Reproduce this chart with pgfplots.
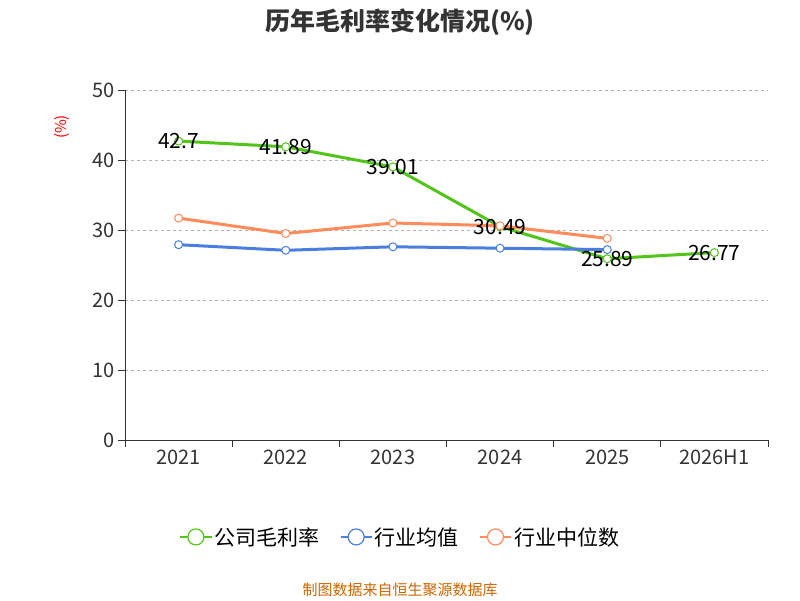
\documentclass[border=0pt]{standalone}
\usepackage{pgfplots}
\pgfplotsset{compat=1.18}
\usepackage{fontspec}
\setmainfont{Noto Sans CJK SC}
\definecolor{cg}{HTML}{52C41A}
\definecolor{cb}{HTML}{4A7FE0}
\definecolor{co}{HTML}{FF8C5A}
\definecolor{ax}{HTML}{333333}
\begin{document}
\begin{tikzpicture}[x=1pt,y=1pt]
\path (0,0) rectangle (800,600);
\begin{axis}[at={(125pt,160pt)},anchor=south west,scale only axis,width=643pt,height=350pt,
 xmin=-0.5,xmax=5.5,ymin=0,ymax=50,
 xtick={-0.5,0.5,1.5,2.5,3.5,4.5,5.5},xticklabels={},
 extra x ticks={0,1,2,3,4,5},extra x tick labels={2021,2022,2023,2024,2025,2026H1},
 extra x tick style={major tick length=0pt,grid=none},
 ytick={0,10,20,30,40,50},ymajorgrids,grid style={dashed,gray!60,line width=0.8pt},
 tick style={draw=ax,line width=0.8pt},major tick length=7pt,tick align=outside,
 axis x line*=bottom,axis y line*=left,axis line style={ax,line width=0.8pt,-},
 ticklabel style={font=\fontsize{20}{20}\selectfont,text=ax},
 xticklabel style={yshift=-6pt},
 /pgf/number format/assume math mode=true,
 legend columns=3,legend style={at={(0.428,-0.277)},anchor=center,draw=none,font=\fontsize{21}{21}\selectfont,/tikz/every even column/.append style={column sep=18pt}},
 legend image code/.code={\draw[#1,line width=2pt] (0,0)--(1.1cm,0); \draw[#1,fill=white,line width=1.2pt] (0.55cm,0) circle (8pt);},
]
\addplot[cg,line width=3pt,mark=*,mark size=4pt,mark options={fill=white,line width=1pt},
 nodes near coords,point meta=explicit symbolic,
 every node near coord/.append style={anchor=center,yshift=0pt,text=black,font=\fontsize{21}{21}\selectfont}]
 coordinates {(0,42.7)[42.7] (1,41.89)[41.89] (2,39.01)[39.01] (3,30.49)[30.49] (4,25.89)[25.89] (5,26.77)[26.77]};
\addlegendentry{公司毛利率}
\addplot[cb,line width=3pt,mark=*,mark size=4pt,mark options={fill=white,line width=1pt}]
 coordinates {(0,27.9)(1,27.1)(2,27.6)(3,27.4)(4,27.2)};
\addlegendentry{行业均值}
\addplot[co,line width=3pt,mark=*,mark size=4pt,mark options={fill=white,line width=1pt}]
 coordinates {(0,31.7)(1,29.5)(2,31.0)(3,30.6)(4,28.8)};
\addlegendentry{行业中位数}
\end{axis}
\node[font=\bfseries\fontsize{25}{25}\selectfont,text=ax] at (400,578) {历年毛利率变化情况(\%)};
\node[rotate=90,text=red,font=\fontsize{15}{15}\selectfont] at (62,473) {(\%)};
\node[text=orange!80!black,font=\fontsize{15}{15}\selectfont] at (400,10) {制图数据来自恒生聚源数据库};
\end{tikzpicture}
\end{document}
